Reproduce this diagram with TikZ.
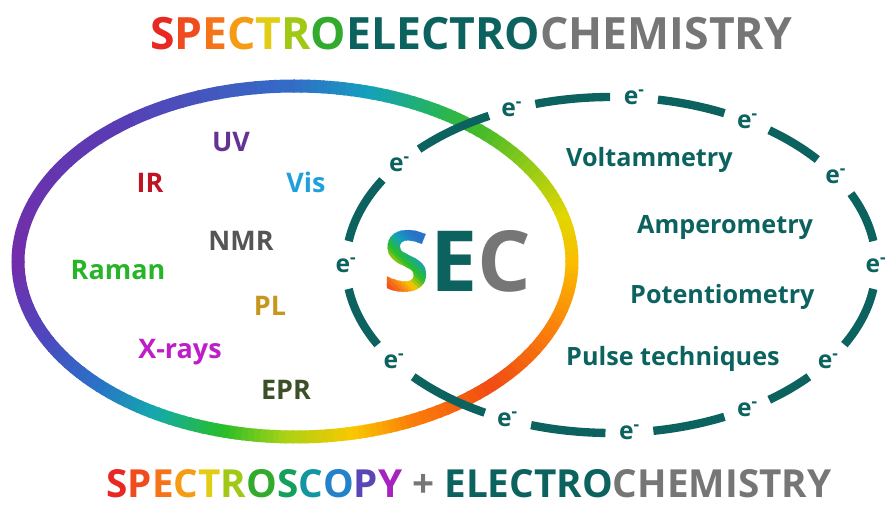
\documentclass[tikz,border=0pt]{standalone}
\usepackage{fontspec}
\setmainfont{Open Sans}
\usepackage{tikz}
\usepackage{xcolor}

\definecolor{echem}{RGB}{12,98,94}
\definecolor{chemgray}{RGB}{118,118,118}
% ring colours
\definecolor{rP}{RGB}{115,45,170}
\definecolor{rBV}{RGB}{80,70,190}
\definecolor{rB}{RGB}{40,115,200}
\definecolor{rC}{RGB}{20,170,170}
\definecolor{rG}{RGB}{40,190,40}
\definecolor{rYG}{RGB}{170,210,20}
\definecolor{rY}{RGB}{250,200,0}
\definecolor{rOa}{RGB}{250,125,10}
\definecolor{rR}{RGB}{240,75,20}
\definecolor{rOb}{RGB}{250,135,10}
\definecolor{rYb}{RGB}{250,190,0}
\definecolor{rYc}{RGB}{225,215,0}
\definecolor{rYGb}{RGB}{160,205,20}
\definecolor{rGb}{RGB}{60,185,45}
\definecolor{rCG}{RGB}{35,180,95}
\definecolor{rCb}{RGB}{20,160,190}
\definecolor{rBb}{RGB}{50,110,200}
\definecolor{rBVb}{RGB}{90,60,180}
% letters
\definecolor{lRed}{RGB}{232,40,35}
\definecolor{lOrR}{RGB}{240,75,30}
\definecolor{lOr}{RGB}{245,115,25}
\definecolor{lOrY}{RGB}{245,155,20}
\definecolor{lYel}{RGB}{225,205,20}
\definecolor{lYG}{RGB}{160,200,20}
\definecolor{lGrn}{RGB}{50,170,45}
\definecolor{lGrT}{RGB}{20,160,90}
\definecolor{lCyn}{RGB}{20,150,160}
\definecolor{lBlu}{RGB}{35,130,200}
\definecolor{lVio}{RGB}{90,70,180}
\definecolor{lMag}{RGB}{165,35,190}
% methods
\definecolor{cUV}{RGB}{100,50,150}
\definecolor{cIR}{RGB}{190,20,35}
\definecolor{cVis}{RGB}{30,160,220}
\definecolor{cNMR}{RGB}{85,85,85}
\definecolor{cRaman}{RGB}{40,180,40}
\definecolor{cPL}{RGB}{200,150,30}
\definecolor{cX}{RGB}{190,30,200}
\definecolor{cEPR}{RGB}{60,80,40}

\tikzstyle{ring} = [line width=0.39cm, line cap=butt]
\tikzstyle{edash} = [line width=0.25cm, line cap=butt, echem]
\tikzstyle{headline} = [font=\bfseries\fontsize{38}{38}\selectfont, inner sep=0pt]
\tikzstyle{footline} = [font=\bfseries\fontsize{33}{33}\selectfont, inner sep=0pt]
\tikzstyle{sec} = [font=\bfseries\fontsize{72}{72}\selectfont, inner sep=0pt]
\tikzstyle{method} = [font=\bfseries\fontsize{23}{23}\selectfont, inner sep=0pt, anchor=base]
\tikzstyle{tech} = [font=\bfseries\fontsize{21.5}{21.5}\selectfont, inner sep=0pt, anchor=base west, text=echem]
\tikzstyle{elec} = [font=\bfseries\fontsize{21}{21}\selectfont, inner sep=0pt, text=echem]

\begin{document}
\begin{tikzpicture}[x=0.03cm, y=0.03cm]
	\useasboundingbox (0,0) rectangle (886,507);

	% rainbow ring
	\begin{scope}[shift={(295,245.5)}]
		\foreach \ta/\tb/\ca/\cb in {-180/-155/rP/rBV, -155/-135/rBV/rB, -135/-120/rB/rC, -120/-105/rC/rG,
			-105/-92/rG/rYG, -92/-78/rYG/rY, -78/-65/rY/rOa, -65/-45/rOa/rR, -45/-20/rR/rOb, -20/0/rOb/rYb,
			0/15/rYb/rYc, 15/30/rYc/rYGb, 30/50/rYGb/rGb, 50/60/rGb/rCG, 60/75/rCG/rCb, 75/90/rCb/rBb,
			90/130/rBb/rBVb, 130/180/rBVb/rP}{
			\foreach \i in {0,...,9}{
				\pgfmathsetmacro\tone{\ta+(\tb-\ta)*\i/10}
				\pgfmathsetmacro\ttwo{\ta+(\tb-\ta)*(\i+1)/10+0.4}
				\pgfmathtruncatemacro\mix{95-10*\i}
				\draw[ring, color=\ca!\mix!\cb] (\tone:277 and 175.5) arc[start angle=\tone, end angle=\ttwo, x radius=277, y radius=175.5];
			}
		}
	\end{scope}

	% dashed electron ellipse
	\begin{scope}[shift={(611,242)}]
		\foreach \a [count=\i] in {0,32,59,85,112,143,180,215,247,274,301,325}
			\node[elec] (e\i) at (\a:265 and 168) {e\textsuperscript{-}};
		\foreach \a/\b in {0/32,32/59,59/85,85/112,112/143,143/180,180/215,215/247,247/274,274/301,301/325,325/360}{
			\pgfmathsetmacro\s{\a+2.4/veclen(26.5*sin(\a),16.8*cos(\a))*57.3}
			\pgfmathsetmacro\e{\b-2.4/veclen(26.5*sin(\b),16.8*cos(\b))*57.3}
			\draw[edash] (\s:265 and 168) arc[start angle=\s, end angle=\e, x radius=265, y radius=168];
		}
	\end{scope}

	% headings
	\node[headline, anchor=base] (top) at (471,457) {\textcolor{lRed}{S}\textcolor{lOrR}{P}\textcolor{lOr}{E}\textcolor{lOrY}{C}\textcolor{lYel}{T}\textcolor{lYG}{R}\textcolor{lGrn}{O}\textcolor{echem}{ELECTRO}\textcolor{chemgray}{CHEMISTRY}};
	\node[footline, anchor=base] (bottom) at (469,9) {\textcolor{lRed}{S}\textcolor{lOrR}{P}\textcolor{lOr}{E}\textcolor{lOrY}{C}\textcolor{lYel}{T}\textcolor{lYG}{R}\textcolor{lGrn}{O}\textcolor{lGrT}{S}\textcolor{lCyn}{C}\textcolor{lBlu}{O}\textcolor{lVio}{P}\textcolor{lMag}{Y} \textcolor{chemgray}{+} \textcolor{echem}{ELECTRO}\textcolor{chemgray}{CHEMISTRY}};

	% SEC, the S in diagonal rainbow strips
	\node[sec, anchor=base west, text opacity=0] (secS) at (383,215) {S};
	\begin{scope}[shift={(secS.base west)}]
		\foreach \ua/\ub/\ca/\cb in {0/20/lRed/lOr, 20/36/lOr/rY, 36/52/rY/rG, 52/70/rG/rCb, 70/88/rCb/rB, 88/112/rB/rB}{
			\foreach \i in {0,...,3}{
				\pgfmathsetmacro\uone{\ua+(\ub-\ua)*\i/4}
				\pgfmathsetmacro\utwo{\ua+(\ub-\ua)*(\i+1)/4+1}
				\pgfmathtruncatemacro\mix{88-25*\i}
				\begin{scope}
					\clip (\uone+5,-5) -- (\utwo+5,-5) -- (\utwo-75,75) -- (\uone-75,75) -- cycle;
					\node[sec, anchor=base west, text=\ca!\mix!\cb] at (0,0) {S};
				\end{scope}
			}
		}
	\end{scope}
	\node[sec, anchor=base west] (secEC) at (secS.base east) {\textcolor{echem}{E}\textcolor{chemgray}{C}};

	% spectroscopies
	\node[method, text=cUV] (uv) at (231,355) {UV};
	\node[method, text=cIR] (ir) at (150,314) {IR};
	\node[method, text=cVis] (vis) at (306,314) {Vis};
	\node[method, text=cNMR] (nmr) at (241,256) {NMR};
	\node[method, text=cRaman] (raman) at (118,227) {Raman};
	\node[method, text=cPL] (pl) at (270,191) {PL};
	\node[method, text=cX] (xrays) at (180,148) {X-rays};
	\node[method, text=cEPR] (epr) at (286,107) {EPR};

	% electrochemical techniques
	\node[tech] (volt) at (566,340) {Voltammetry};
	\node[tech] (amp) at (637,273) {Amperometry};
	\node[tech] (pot) at (630,203) {Potentiometry};
	\node[tech] (pulse) at (566,141) {Pulse techniques};
\end{tikzpicture}
\end{document}
